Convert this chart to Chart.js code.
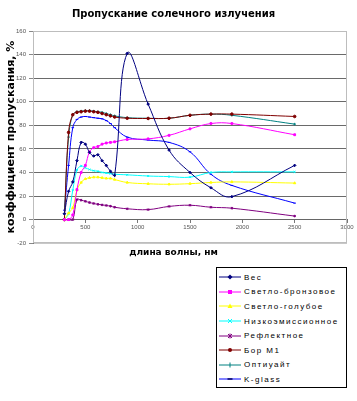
<!DOCTYPE html>
<html>
<head>
<meta charset="utf-8">
<script src="https://cdn.jsdelivr.net/npm/chart.js@4/dist/chart.umd.min.js"></script>
<style>
  html, body { margin: 0; padding: 0; background: #fff; }
  #wrap { position: relative; width: 357px; height: 401px; overflow: hidden; }
  #c { position: absolute; left: 0; top: 0; }
  #legend {
    position: absolute; left: 216px; top: 267px; width: 129px; height: 117px;
    border: 1px solid #000; background: #fff; padding-top: 2px; box-sizing: content-box;
    font-family: "Liberation Sans", Arial, sans-serif; font-size: 8px; letter-spacing: 1.5px; color: #000;
  }
  .row { height: 14.6px; display: flex; align-items: center; white-space: nowrap; }
  .row svg { margin-left: 2px; margin-right: 3px; flex: none; }
</style>
</head>
<body>
<div id="wrap">
  <canvas id="c" width="357" height="401"></canvas>
  <div id="legend"></div>
</div>
<script>
// ---- data ----
const wavelengths = [300, 340, 380, 420, 460, 500, 540, 580, 620, 660, 700, 740, 780, 900, 1100, 1300, 1500, 1700, 1900, 2500];

const ves        = [5, 24, 32, 50, 65.5, 64, 57, 54, 55, 50, 46, 41, 37.5, 141, 98, 59, 40, 27, 19.5, 46];
const bronze     = [0, 0, 4, 25.5, 40, 46, 57.5, 61, 62, 64, 65, 65.5, 66, 68, 68.5, 71.5, 77, 81.5, 81.5, 72];
const lightBlue  = [0, 5.5, 10, 25, 31.5, 34.5, 35.5, 36, 36, 35.5, 35, 35, 34, 31.5, 30.4, 30, 30.5, 31.5, 32, 31];
const lowE       = [0, 5, 25, 42, 45.5, 44, 42.5, 41.5, 41, 40, 39.5, 39, 38.5, 38, 37, 36.5, 36, 40, 40.5, 40.5];
const reflective = [0, 0, 0, 17, 16.5, 15.5, 14.5, 13.7, 13, 12.5, 12, 11.4, 10.5, 9.2, 8.5, 11.2, 12.2, 10.5, 9.7, 3];
const borM1      = [0, 74, 89, 91, 91.5, 92, 92, 91.5, 91, 90, 89, 88, 87, 86, 85.8, 86, 88.5, 89.5, 89.5, 87.5];
const optiwhite  = [5, 70, 89, 91.5, 92, 92.5, 92.5, 92, 91.5, 91, 90, 89, 88, 86.5, 86, 86, 88.5, 89.5, 88.5, 81];
const kglass     = [8, 46, 78, 85, 87, 87.5, 87, 86.5, 86, 85.5, 84, 81.5, 78, 70, 67.5, 65.5, 57.5, 38.5, 29, 14];

const seriesNames = ['Вес', 'Светло-бронзовое', 'Светло-голубое', 'Низкоэмиссионное', 'Рефлектное', 'Бор М1', 'Оптиуайт', 'K-glass'];
const seriesValues = [ves, bronze, lightBlue, lowE, reflective, borM1, optiwhite, kglass];
const seriesColors = ['#000080', '#ff00ff', '#ffff00', '#00ffff', '#800080', '#800000', '#008080', '#0000ff'];
const seriesMarkers = ['rectRot', 'rect', 'triangle', 'crossRot', 'star', 'circle', 'cross', 'line'];

const yTicks = { min: -20, max: 160, step: 20 };
const xTicks = { min: 0, max: 3000, step: 500 };

const titleText = 'Пропускание солечного излучения';
const yTitle = 'коэффициент пропускания, %';
const xTitle = 'длина волны, нм';

// ---- chart ----
const datasets = seriesNames.map((name, i) => ({
  label: name,
  data: wavelengths.map((w, k) => ({ x: w, y: seriesValues[i][k] })),
  borderColor: seriesColors[i],
  backgroundColor: seriesColors[i],
  pointBorderColor: seriesColors[i],
  pointBackgroundColor: seriesColors[i],
  pointStyle: seriesMarkers[i],
  pointRadius: 1.3,
  pointBorderWidth: 1,
  borderWidth: 1,
  tension: 0.4,
  fill: false
}));

const plotBorder = {
  id: 'plotBorder',
  beforeDatasetsDraw(chart) {
    const a = chart.chartArea, ctx = chart.ctx;
    ctx.save();
    ctx.strokeStyle = '#bdbdbd';
    ctx.lineWidth = 1;
    ctx.strokeRect(Math.round(a.left) + 0.5, Math.round(a.top) + 0.5, Math.round(a.right - a.left) - 1, Math.round(a.bottom - a.top) - 1);
    ctx.restore();
  }
};

const chart = new Chart(document.getElementById('c'), {
  type: 'line',
  data: { datasets },
  plugins: [plotBorder],
  options: {
    responsive: false,
    animation: false,
    devicePixelRatio: 1,
    layout: { padding: { left: 0, right: 10, top: 0, bottom: 0 } },
    plugins: {
      legend: { display: false },
      tooltip: { enabled: false },
      title: {
        display: true, text: titleText, color: '#000',
        font: { family: 'DejaVu Sans', weight: 'bold', size: 10 },
        padding: { top: 8, bottom: 11 }
      },
      subtitle: {
        display: true, position: 'bottom', text: xTitle, color: '#000',
        font: { family: 'DejaVu Sans', weight: 'bold', size: 9 },
        padding: { top: 4, bottom: 143 }
      }
    },
    scales: {
      x: {
        type: 'linear',
        position: { y: 0 },
        min: xTicks.min, max: xTicks.max,
        ticks: { stepSize: xTicks.step, color: '#555', font: { family: 'Liberation Sans', size: 6 }, padding: 1, maxRotation: 0,
                 callback: v => String(v) },
        grid: { drawOnChartArea: false, drawTicks: true, tickLength: 3, color: '#777' },
        border: { display: true, color: '#666' }
      },
      y: {
        type: 'linear',
        position: 'left',
        min: yTicks.min, max: yTicks.max,
        afterFit(s) { s.width = 33; },
        ticks: { stepSize: yTicks.step, color: '#555', font: { family: 'Liberation Sans', size: 6 }, padding: 3,
                 callback: v => String(v) },
        grid: {
          color: c => (c.tick && (c.tick.value === yTicks.min || c.tick.value === yTicks.max)) ? '#c8c8c8' : '#6a6a6a',
          tickColor: '#888', tickLength: 4, lineWidth: 1
        },
        border: { display: true, color: '#777' },
        title: {
          display: true, text: yTitle, color: '#000',
          font: { family: 'DejaVu Sans', weight: 'bold', size: 11 },
          padding: { top: 5, bottom: 0 }
        }
      }
    }
  }
});

// ---- legend (HTML, built from the datasets) ----
function markerSvg(style, color) {
  const cx = 11, cy = 7;
  let m = '';
  switch (style) {
    case 'rectRot': m = `<polygon points="${cx},${cy-2.5} ${cx+2.5},${cy} ${cx},${cy+2.5} ${cx-2.5},${cy}" fill="${color}"/>`; break;
    case 'rect': m = `<rect x="${cx-2}" y="${cy-2}" width="4" height="4" fill="${color}"/>`; break;
    case 'triangle': m = `<polygon points="${cx},${cy-2.5} ${cx+2.5},${cy+2} ${cx-2.5},${cy+2}" fill="${color}"/>`; break;
    case 'crossRot': m = `<path d="M${cx-2},${cy-2}L${cx+2},${cy+2}M${cx+2},${cy-2}L${cx-2},${cy+2}" stroke="${color}" stroke-width="1"/>`; break;
    case 'star': m = `<path d="M${cx-2},${cy-2}L${cx+2},${cy+2}M${cx+2},${cy-2}L${cx-2},${cy+2}M${cx},${cy-2.5}L${cx},${cy+2.5}" stroke="${color}" stroke-width="1"/>`; break;
    case 'circle': m = `<circle cx="${cx}" cy="${cy}" r="2" fill="${color}"/>`; break;
    case 'cross': m = `<path d="M${cx},${cy-2.5}L${cx},${cy+2.5}" stroke="${color}" stroke-width="1"/>`; break;
    case 'line': m = `<path d="M${cx-2.5},${cy}L${cx+2.5},${cy}" stroke="#000060" stroke-width="1.5"/>`; break;
  }
  return `<svg width="22" height="14" viewBox="0 0 22 14"><path d="M0,7L22,7" stroke="${color}" stroke-width="1"/>${m}</svg>`;
}
const legendEl = document.getElementById('legend');
chart.data.datasets.forEach(ds => {
  const row = document.createElement('div');
  row.className = 'row';
  row.innerHTML = markerSvg(ds.pointStyle, ds.borderColor);
  const t = document.createElement('span');
  t.textContent = ds.label;
  row.appendChild(t);
  legendEl.appendChild(row);
});
</script>
</body>
</html>
